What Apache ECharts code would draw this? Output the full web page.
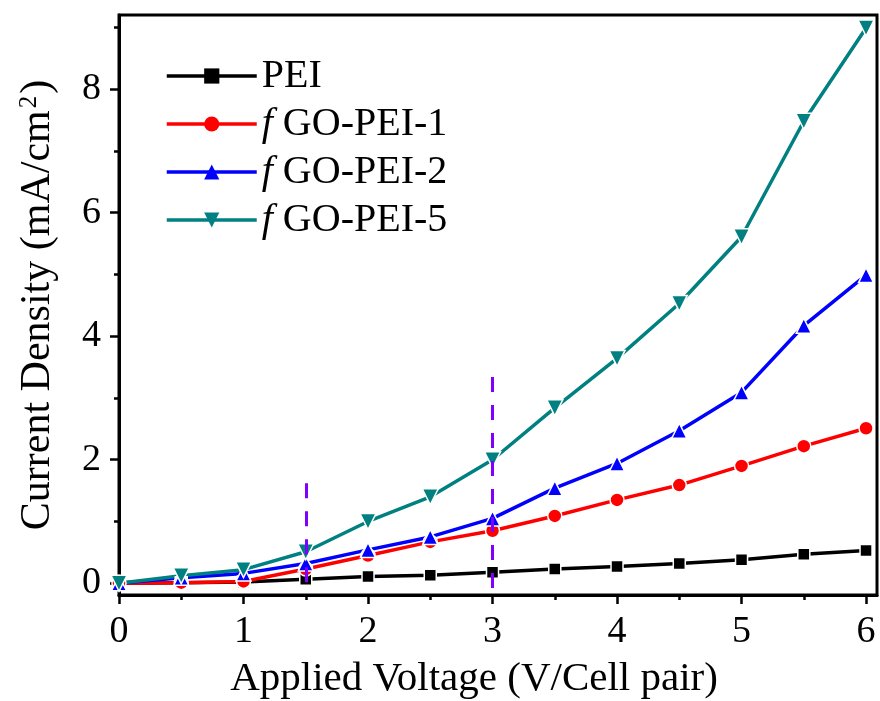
<!DOCTYPE html>
<html>
<head>
<meta charset="utf-8">
<script src="https://cdn.jsdelivr.net/npm/echarts@6/dist/echarts.min.js"></script>
<style>
html,body{margin:0;padding:0;background:#fff;}
#main{width:880px;height:701px;}
</style>
</head>
<body>
<div id="main"></div>
<script>
//数据
var voltage = [0, 0.5, 1, 1.5, 2, 2.5, 3, 3.5, 4, 4.5, 5, 5.5, 6];
var pei = [0, 0.01, 0.02, 0.065, 0.11, 0.13, 0.18, 0.23, 0.27, 0.32, 0.38, 0.47, 0.53];
var go1 = [0, 0.01, 0.03, 0.23, 0.45, 0.67, 0.85, 1.09, 1.35, 1.59, 1.90, 2.22, 2.51];
var go2 = [0, 0.09, 0.16, 0.32, 0.54, 0.75, 1.05, 1.54, 1.94, 2.47, 3.09, 4.17, 4.99];
var go5 = [0, 0.12, 0.22, 0.51, 1.00, 1.40, 2.00, 2.84, 3.64, 4.53, 5.61, 7.48, 8.99];
var seriesNames = ['PEI', 'fGO-PEI-1', 'fGO-PEI-2', 'fGO-PEI-5'];
//刻度
var xMajor = [0, 1, 2, 3, 4, 5, 6];
var xMinor = [0.5, 1.5, 2.5, 3.5, 4.5, 5.5];
var yMajor = [0, 2, 4, 6, 8];
var yMinor = [1, 3, 5, 7, 9];
//虚线位置
var guideX = [1.5, 3];
var guideTop = [1.62, 3.34];
var guideBottom = [-0.11, -0.08];

var font = 'Liberation Serif';
var xMin = 0, xMax = 6.088, yMin = -0.19, yMax = 9.2;

function pairs(ys){
    var out = [];
    for (var i = 0; i < voltage.length; i++) out.push([voltage[i], ys[i]]);
    return out;
}

function makeSeries(name, ys, color, symbol, size, rotate){
    return {
        name: name,
        type: 'line',
        data: pairs(ys),
        symbol: symbol,
        symbolSize: size,
        symbolRotate: rotate || 0,
        lineStyle: {color: color, width: 3.5},
        itemStyle: {color: color, borderColor: '#fff', borderWidth: 1.5},
        emphasis: {disabled: true},
        animation: false
    };
}

//从上往下画虚线
var guideLines = [];
for (var g = 0; g < guideX.length; g++) {
    guideLines.push([{coord: [guideX[g], guideTop[g]]}, {coord: [guideX[g], guideBottom[g]]}]);
}

var tickStyle = {color: '#000', width: 2.5};

var myChart = echarts.init(document.getElementById('main'));
var option = {
    backgroundColor: '#fff',
    animation: false,
    grid: {left: 119, right: 3, top: 15, bottom: 106, show: true, borderColor: '#000', borderWidth: 3,
        containLabel: false, outerBoundsMode: 'none'},
    legend: {
        data: seriesNames,
        orient: 'vertical',
        left: 160,
        top: 51,
        itemWidth: 90,
        itemHeight: 19,
        itemGap: 8,
        lineStyle: {width: 3.5},
        itemStyle: {borderWidth: 0},
        textStyle: {
            fontFamily: font, fontSize: 40, color: '#000',
            rich: {
                i: {fontFamily: font, fontSize: 40, fontStyle: 'italic', color: '#000'},
                n: {fontFamily: font, fontSize: 40, color: '#000'}
            }
        },
        formatter: function(name){
            if (name.charAt(0) == 'f') return '{i|f}{n| ' + name.slice(1) + '}';
            return '{n|' + name + '}';
        }
    },
    xAxis: [{
        type: 'value', min: xMin, max: xMax,
        name: 'Applied Voltage (V/Cell pair)', nameLocation: 'middle', nameGap: 64,
        nameTextStyle: {fontFamily: font, fontSize: 41, color: '#000', padding: [0, 48, 0, 0]},
        axisLine: {onZero: false, lineStyle: {color: '#000', width: 3}},
        axisTick: {customValues: xMajor, length: 9, lineStyle: tickStyle},
        axisLabel: {customValues: xMajor, margin: 18, fontFamily: font, fontSize: 38, color: '#000'},
        splitLine: {show: false}
    }, {
        type: 'value', min: xMin, max: xMax, position: 'bottom',
        axisLine: {show: false, onZero: false},
        axisTick: {customValues: xMinor, length: 5, lineStyle: tickStyle},
        axisLabel: {show: false},
        splitLine: {show: false}
    }],
    yAxis: [{
        type: 'value', min: yMin, max: yMax,
        name: '{t|Current Density (mA/cm}{s|2}{t|)}', nameLocation: 'middle', nameGap: 60,
        nameTextStyle: {
            rich: {
                t: {fontFamily: font, fontSize: 42, color: '#000'},
                s: {fontFamily: font, fontSize: 25, color: '#000', verticalAlign: 'top', padding: [0, 2, 0, 2]}
            }
        },
        axisLine: {onZero: false, lineStyle: {color: '#000', width: 3}},
        axisTick: {customValues: yMajor, length: 9, lineStyle: tickStyle},
        axisLabel: {customValues: yMajor, margin: 18, fontFamily: font, fontSize: 38, color: '#000'},
        splitLine: {show: false}
    }, {
        type: 'value', min: yMin, max: yMax, position: 'left',
        axisLine: {show: false, onZero: false},
        axisTick: {customValues: yMinor, length: 5, lineStyle: tickStyle},
        axisLabel: {show: false},
        splitLine: {show: false}
    }],
    series: [
        makeSeries(seriesNames[0], pei, '#000000', 'rect', 12),
        makeSeries(seriesNames[1], go1, '#ff0000', 'circle', 14),
        makeSeries(seriesNames[2], go2, '#0000ff', 'triangle', 15),
        makeSeries(seriesNames[3], go5, '#008080', 'triangle', 16, 180),
        {
            name: 'guide', type: 'line', data: [], silent: true,
            markLine: {
                silent: true, symbol: 'none', label: {show: false},
                lineStyle: {color: '#8000ff', width: 3, type: [15, 13]},
                data: guideLines
            }
        }
    ]
};
myChart.setOption(option);
</script>
</body>
</html>
